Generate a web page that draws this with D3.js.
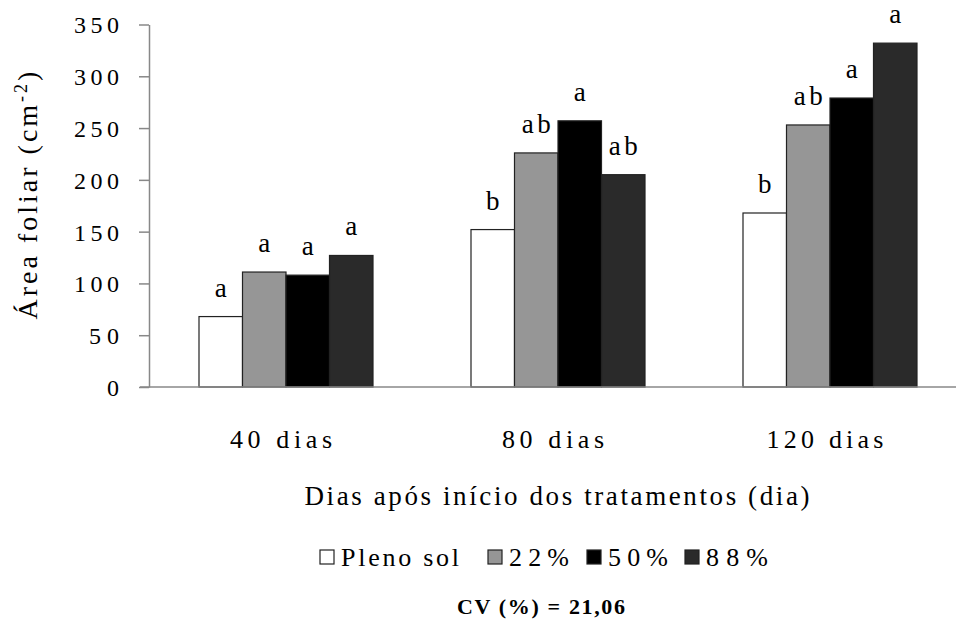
<!DOCTYPE html>
<html>
<head>
<meta charset="utf-8">
<script src="https://cdn.jsdelivr.net/npm/d3@7"></script>
</head>
<body style="margin:0;background:#fff">
<svg id="chart" width="956" height="623"></svg>
<script>
var categories = ["40 dias", "80 dias", "120 dias"];
var series = ["Pleno sol", "22%", "50%", "88%"];
var values = [
  [68, 111, 108, 127],
  [152, 226, 257, 205],
  [168, 253, 279, 332]
];
var letters = [
  ["a", "a", "a", "a"],
  ["b", "ab", "a", "ab"],
  ["b", "ab", "a", "a"]
];
var yTicks = [0, 50, 100, 150, 200, 250, 300, 350];
var colors = ["#ffffff", "#969696", "#000000", "#2a2a2a"];

var svg = d3.select("#chart");

var x0 = d3.scaleBand().domain(categories).range([150, 966]);
var x1 = d3.scaleBand().domain(series).range([49, 223]);
var y = d3.scaleLinear().domain([0, 350]).range([387, 24.5]);
var color = d3.scaleOrdinal().domain(series).range(colors);

function txt(sel, size, width) {
  sel.style("font-family", "'Liberation Serif'").style("font-size", size + "px").attr("fill", "#000");
  if (width) sel.attr("textLength", width).attr("lengthAdjust", "spacing");
  return sel;
}

// y axis
var yAxis = svg.append("g")
    .attr("transform", "translate(149,0)")
    .call(d3.axisLeft(y).tickValues(yTicks).tickSize(10).tickSizeOuter(0).tickPadding(20));
yAxis.select(".domain").attr("stroke", "#888").attr("stroke-width", 1.5);
yAxis.selectAll(".tick line").attr("stroke", "#888").attr("stroke-width", 1.5);
yAxis.selectAll(".tick text").each(function(d) {
  txt(d3.select(this), 24, String(d).length * 15).attr("dy", "0.35em");
});

// bars
var groups = svg.selectAll(".grp")
  .data(values)
  .enter().append("g")
    .attr("class", "grp")
    .attr("transform", function(d, i) { return "translate(" + x0(categories[i]) + ",0)"; });

groups.selectAll("rect")
  .data(function(d) { return d.map(function(v, j) { return {s: series[j], v: v}; }); })
  .enter().append("rect")
    .attr("x", function(d) { return x1(d.s); })
    .attr("y", function(d) { return y(d.v); })
    .attr("width", x1.bandwidth())
    .attr("height", function(d) { return y(0) - y(d.v); })
    .attr("fill", function(d) { return color(d.s); })
    .attr("stroke", "#222")
    .attr("stroke-width", 1.2);

groups.selectAll(".lbl")
  .data(function(d, i) { return d.map(function(v, j) { return {s: series[j], v: v, t: letters[i][j]}; }); })
  .enter().append("text")
    .attr("class", "lbl")
    .attr("x", function(d) { return x1(d.s) + x1.bandwidth() / 2; })
    .attr("y", function(d) { return y(d.v) - 20; })
    .attr("text-anchor", "middle")
    .text(function(d) { return d.t; })
    .each(function(d) { txt(d3.select(this), 27, d.t.length > 1 ? 29 : null); });

// x axis
svg.append("line")
    .attr("x1", 140).attr("x2", 956)
    .attr("y1", y(0)).attr("y2", y(0))
    .attr("stroke", "#888").attr("stroke-width", 1.5);

svg.selectAll(".xlab")
  .data(categories)
  .enter().append("text")
    .attr("class", "xlab")
    .attr("x", function(d) { return x0(d) + x0.bandwidth() / 2 - 5; })
    .attr("y", 448)
    .attr("text-anchor", "middle")
    .text(function(d) { return d; })
    .each(function(d) { txt(d3.select(this), 26, d.length * 14.6); });

// axis titles
txt(svg.append("text")
    .attr("x", 557).attr("y", 505)
    .attr("text-anchor", "middle")
    .text("Dias após início dos tratamentos (dia)"), 27, 505);

var yt = svg.append("text")
    .attr("transform", "translate(37,194) rotate(-90)")
    .attr("text-anchor", "middle")
    .style("letter-spacing", "3px");
txt(yt, 28);
yt.append("tspan").text("Área foliar (cm");
yt.append("tspan").attr("dy", -10).style("font-size", "18px").text("-2");
yt.append("tspan").attr("dy", 10).text(")");

// legend
var legX = [320, 488, 587, 685];
var legW = [118, 60, 60, 62];
var leg = svg.selectAll(".leg")
  .data(series)
  .enter().append("g")
    .attr("class", "leg")
    .attr("transform", function(d, i) { return "translate(" + legX[i] + ",550)"; });
leg.append("rect")
    .attr("width", 14).attr("height", 14)
    .attr("fill", function(d) { return color(d); })
    .attr("stroke", "#222").attr("stroke-width", 1.2);
leg.append("text")
    .attr("x", 21).attr("y", 16)
    .text(function(d) { return d; })
    .each(function(d, i) { txt(d3.select(this), 26, legW[i]); });

txt(svg.append("text")
    .attr("x", 541).attr("y", 614)
    .attr("text-anchor", "middle")
    .style("font-weight", "bold")
    .text("CV (%) = 21,06"), 22, 168);
</script>
</body>
</html>
